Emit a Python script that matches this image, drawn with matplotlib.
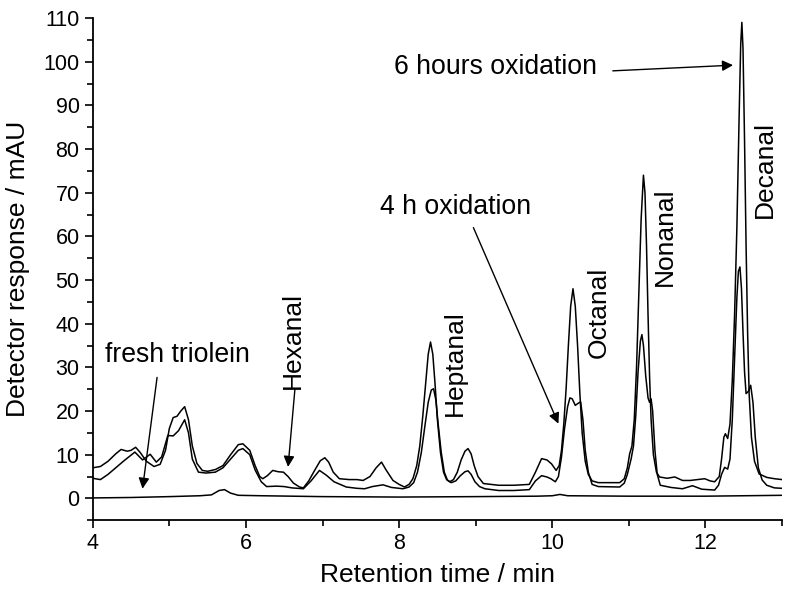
import matplotlib
matplotlib.use("Agg")
import matplotlib.pyplot as plt
from matplotlib.ticker import MultipleLocator

plt.rcParams['font.family'] = ['Liberation Sans', 'DejaVu Sans']

# 6 hours oxidation trace
t6 = [4.0, 4.1, 4.2, 4.3, 4.37, 4.45, 4.5, 4.56, 4.62, 4.7, 4.8, 4.88, 4.95, 5.0, 5.05,
      5.1, 5.15, 5.2, 5.25, 5.3, 5.36, 5.43, 5.5, 5.6, 5.7, 5.8, 5.9, 5.96, 6.05, 6.12,
      6.18, 6.22, 6.28, 6.35, 6.42, 6.49, 6.55, 6.62, 6.7, 6.75, 6.82, 6.9, 6.97, 7.03,
      7.08, 7.14, 7.22, 7.35, 7.45, 7.53, 7.62, 7.7, 7.77, 7.83, 7.92, 8.0, 8.07, 8.13,
      8.18, 8.23, 8.27, 8.31, 8.35, 8.38, 8.41, 8.44, 8.47, 8.5, 8.54, 8.58, 8.62, 8.66,
      8.71, 8.76, 8.81, 8.86, 8.9, 8.94, 8.98, 9.03, 9.1, 9.3, 9.5, 9.7, 9.78, 9.86, 9.93,
      9.99, 10.05, 10.09, 10.12, 10.15, 10.18, 10.21, 10.24, 10.27, 10.3, 10.33, 10.36,
      10.39, 10.43, 10.47, 10.52, 10.6, 10.88, 10.94, 10.98, 11.01, 11.04, 11.07, 11.1,
      11.13, 11.16, 11.19, 11.21, 11.23, 11.25, 11.27, 11.29, 11.32, 11.36, 11.4, 11.5,
      11.6, 11.7, 11.8, 11.9, 11.99, 12.06, 12.12, 12.18, 12.21, 12.24, 12.26, 12.29,
      12.32, 12.35, 12.38, 12.41, 12.44, 12.46, 12.475, 12.49, 12.51, 12.53, 12.55, 12.57,
      12.6, 12.64, 12.7, 12.8, 12.9, 13.0]
r6 = [7.0, 7.3, 8.5, 10.2, 11.2, 10.8, 11.0, 11.7, 10.5, 8.5, 7.3, 7.8, 11.0, 16.0, 18.5,
      18.8, 20.0, 21.0, 18.0, 12.0, 8.0, 6.4, 6.2, 6.6, 7.5, 10.0, 12.3, 12.5, 11.0, 7.5,
      5.0, 4.5, 5.2, 6.4, 6.1, 6.0, 5.0, 3.5, 2.6, 2.4, 4.0, 6.5, 8.6, 9.3,
      8.3, 6.0, 4.5, 4.3, 4.3, 4.1, 5.0, 7.0, 8.3, 6.5, 4.1, 3.2, 2.6, 3.2,
      4.5, 7.5, 12.0, 19.0, 27.0, 33.0, 35.8, 33.0, 26.0, 18.0, 10.5, 6.0, 4.3, 3.8,
      4.3, 6.0, 8.8, 10.8, 11.4, 10.2, 7.5, 5.0, 3.4, 3.0, 3.0, 3.2, 6.0, 9.1, 8.8,
      7.9, 6.4, 7.5, 11.0, 17.0, 25.0, 35.0, 44.0, 48.0, 44.0, 35.0, 24.0,
      15.0, 8.5, 5.5, 4.0, 3.6, 3.6, 4.5, 7.0, 10.2, 12.0, 18.0, 30.0,
      47.0, 64.0, 74.0, 70.0, 58.0, 42.0, 28.0, 18.0, 10.0, 6.0, 4.9, 4.6,
      4.9, 4.1, 4.1, 4.3, 4.5, 4.0, 3.8, 5.0, 9.0, 14.0, 14.8, 13.7,
      17.0, 27.0, 42.0, 62.0, 88.0, 104.0, 109.0, 103.0, 82.0, 58.0, 38.0, 24.0,
      14.0, 8.5, 5.6, 4.8, 4.5, 4.3]

# 4 h oxidation trace
t4 = [4.0, 4.1, 4.2, 4.3, 4.4, 4.55, 4.65, 4.75, 4.83, 4.9, 4.98, 5.05, 5.12, 5.2, 5.25,
      5.3, 5.38, 5.48, 5.6, 5.7, 5.8, 5.9, 5.96, 6.05, 6.12, 6.2, 6.27, 6.4, 6.5, 6.6,
      6.75, 6.85, 6.96, 7.05, 7.15, 7.31, 7.45, 7.55, 7.65, 7.79, 7.9, 8.05, 8.13, 8.19,
      8.24, 8.29, 8.34, 8.38, 8.42, 8.45, 8.48, 8.51, 8.55, 8.59, 8.63, 8.68, 8.74, 8.8,
      8.86, 8.9, 8.94, 8.99, 9.05, 9.12, 9.3, 9.5, 9.7, 9.78, 9.86, 9.93, 9.98, 10.04,
      10.08, 10.12, 10.16, 10.2, 10.23, 10.26, 10.3, 10.34, 10.37, 10.4, 10.43, 10.47,
      10.52, 10.6, 10.88, 10.94, 10.98, 11.03, 11.06, 11.09, 11.12, 11.15, 11.17, 11.19,
      11.22, 11.25, 11.27, 11.29, 11.31, 11.34, 11.37, 11.41, 11.55, 11.7, 11.83, 11.95,
      12.12, 12.17, 12.21, 12.25, 12.29, 12.32, 12.35, 12.38, 12.41, 12.43, 12.45, 12.47,
      12.49, 12.51, 12.53, 12.56, 12.59, 12.62, 12.65, 12.69, 12.74, 12.8, 12.9, 13.0]
r4 = [4.6, 4.3, 5.5, 7.0, 8.5, 10.6, 8.8, 10.1, 8.3, 9.5, 14.4, 14.3, 15.5, 18.0, 15.0,
      9.0, 6.0, 5.8, 6.0, 7.0, 9.0, 11.0, 11.4, 10.0, 6.5, 3.8, 2.7, 2.8, 2.7, 2.4,
      2.2, 4.0, 6.4, 5.3, 3.8, 2.6, 2.3, 2.2, 2.7, 3.1, 2.5, 2.2, 2.6, 3.6,
      6.0, 10.5, 17.0, 22.0, 24.8, 25.1, 22.5, 17.0, 10.5, 6.0, 4.2, 3.6, 4.0, 5.2,
      6.1, 6.3, 5.5, 3.8, 2.7, 2.2, 1.8, 1.8, 2.0, 4.0, 5.2, 4.9, 4.5, 3.8,
      5.0, 9.5, 16.0, 21.0, 23.0, 22.8, 21.3, 21.8, 22.1, 18.0, 11.0, 6.0,
      3.2, 2.7, 2.6, 3.5, 5.5, 9.1, 12.0, 19.0, 29.0, 36.0, 37.5, 35.0,
      28.0, 23.0, 22.0, 22.8, 20.0, 11.0, 5.5, 3.0, 2.5, 2.2, 2.9, 2.1,
      1.9, 3.0, 5.5, 7.1, 6.7, 9.0, 18.0, 32.0, 46.0, 52.0, 53.0, 48.0,
      38.0, 29.0, 24.0, 24.5, 25.9, 22.0, 14.0, 7.0, 4.2, 3.0, 2.4, 2.3]

# fresh triolein trace
t0 = [4.0, 4.5, 5.0, 5.4, 5.55, 5.65, 5.72, 5.8, 5.9, 6.2, 7.0, 8.0, 9.0, 9.8, 10.0,
      10.1, 10.2, 11.0, 12.0, 13.0]
r0 = [0.1, 0.2, 0.4, 0.6, 0.8, 1.8, 2.0, 1.2, 0.7, 0.6, 0.4, 0.3, 0.4, 0.5, 0.6,
      0.9, 0.6, 0.5, 0.5, 0.7]

peak_names = ["Hexanal", "Heptanal", "Octanal", "Nonanal", "Decanal"]
name_x = [6.61, 8.73, 10.60, 11.47, 12.77]
name_y = [36.2, 30.9, 42.7, 60.0, 75.2]

fig = plt.figure(figsize=(7.86, 6.0), dpi=100)
ax = fig.add_axes([0.118, 0.133, 0.877, 0.837])

for t, r in [(t6, r6), (t4, r4), (t0, r0)]:
    ax.plot(t, r, color='black', lw=1.1)

ax.set_xlim(4, 13)
ax.set_ylim(-5, 110)
ax.xaxis.set_major_locator(MultipleLocator(2))
ax.xaxis.set_minor_locator(MultipleLocator(1))
ax.yaxis.set_major_locator(MultipleLocator(10))
ax.yaxis.set_minor_locator(MultipleLocator(5))
ax.spines['top'].set_visible(False)
ax.spines['right'].set_visible(False)
for s in ['left', 'bottom']:
    ax.spines[s].set_linewidth(1.3)
ax.tick_params(which='major', direction='out', length=6, width=1.2, labelsize=15.5)
ax.tick_params(which='minor', direction='out', length=4, width=1.2)
ax.set_xlabel("Retention time / min", fontsize=19, labelpad=6)
ax.set_ylabel("Detector response / mAU", fontsize=19, labelpad=10)

for name, x, y in zip(peak_names, name_x, name_y):
    ax.text(x, y, name, rotation=90, ha='center', va='center', fontsize=19)

arrow = dict(arrowstyle='-|>', color='black', lw=1.0, mutation_scale=16,
             shrinkA=0, shrinkB=0)
ax.text(4.16, 32.8, "fresh triolein", ha='left', va='center', fontsize=19.2)
ax.annotate("", xy=(4.65, 2.2), xytext=(4.84, 27.7), arrowprops=arrow)
ax.annotate("", xy=(6.55, 7.2), xytext=(6.64, 25.1), arrowprops=arrow)
ax.text(8.74, 66.8, "4 h oxidation", ha='center', va='center', fontsize=19.2)
ax.annotate("", xy=(10.08, 17.1), xytext=(8.97, 62.0), arrowprops=arrow)
ax.text(10.58, 98.8, "6 hours oxidation", ha='right', va='center', fontsize=19.2)
ax.annotate("", xy=(12.36, 99.2), xytext=(10.79, 97.9), arrowprops=arrow)

fig.savefig("out.png", dpi=100)
